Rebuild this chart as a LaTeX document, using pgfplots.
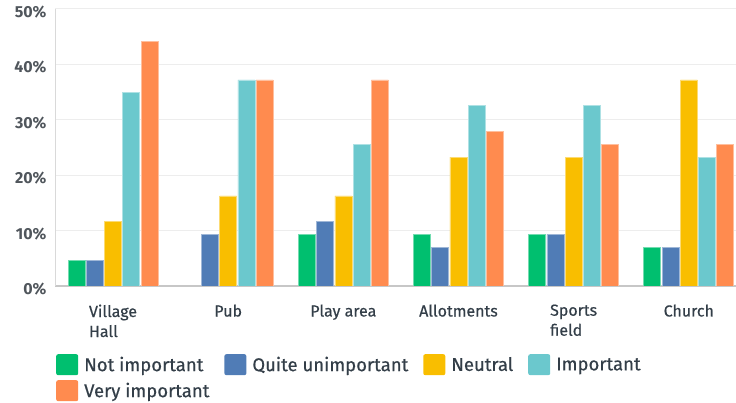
\documentclass[border=0pt]{standalone}
\usepackage{pgfplots}
\pgfplotsset{compat=1.18}
\usepackage{fontspec}
\setmainfont{Fira Sans}
\newfontfamily\medfont{Fira Sans}[FakeBold=0.5]
\definecolor{cNot}{HTML}{00BF6F}
\definecolor{cQuite}{HTML}{507CB6}
\definecolor{cNeutral}{HTML}{F9BE00}
\definecolor{cImp}{HTML}{6BC8CD}
\definecolor{cVery}{HTML}{FF8B4F}
\definecolor{txt}{HTML}{333E48}
\definecolor{ytxt}{HTML}{50565C}
\begin{document}
\begin{tikzpicture}[x=1pt,y=1pt]
\path[use as bounding box] (0,0) rectangle (736,403);
\begin{axis}[
    at={(55pt,117pt)}, anchor=south west,
    scale only axis, width=681pt, height=277pt,
    ymin=0, ymax=50, xmin=-0.504, xmax=5.41,
    ybar=1.25pt, bar width=17pt,
    axis x line*=bottom, axis y line*=left,
    x axis line style={draw=black!22, line width=1.5pt, -},
    y axis line style={draw=black!15, line width=0.8pt, -},
    major tick length=0pt,
    xtick={0,1,2,3,4,5},
    xticklabels={{Village\\Hall},Pub,Play area,Allotments,{Sports\\field},Church},
    xticklabel style={font=\medfont\fontsize{16}{20}\selectfont, text=txt, align=left, yshift=-15pt},
    ytick={0,10,20,30,40,50},
    yticklabel={\pgfmathprintnumber{\tick}\%},
    yticklabel style={font=\fontsize{16}{18}\bfseries, text=ytxt, xshift=-5pt, yshift=-3pt},
    /pgf/number format/assume math mode=true,
    ymajorgrids, grid style={draw=black!7, line width=1pt},
    legend columns=4, legend cell align=left,
    legend style={at={(axis description cs:0,0)}, anchor=north west, xshift=-2pt, yshift=-66pt,
        draw=none, fill=none, font=\medfont\fontsize{18.5}{22}\selectfont, text=txt, row sep=5pt,
        /tikz/every odd column/.append style={column sep=4pt},
        /tikz/every even column/.append style={column sep=13pt}},
    legend image code/.code={\path[#1, draw=none, rounded corners=2pt] (0pt,-10.5pt) rectangle (22pt,10.5pt);},
]
\addplot[fill=cNot, draw=cNot!55!white, line width=0.6pt] coordinates {(0,4.65) (2,9.30) (3,9.30) (4,9.30) (5,6.98)};
\addlegendentry{Not important}
\addplot[fill=cQuite, draw=cQuite!55!white, line width=0.6pt] coordinates {(0,4.65) (1,9.30) (2,11.63) (3,6.98) (4,9.30) (5,6.98)};
\addlegendentry{Quite unimportant}
\addplot[fill=cNeutral, draw=cNeutral!55!white, line width=0.6pt] coordinates {(0,11.63) (1,16.28) (2,16.28) (3,23.26) (4,23.26) (5,37.21)};
\addlegendentry{Neutral}
\addplot[fill=cImp, draw=cImp!55!white, line width=0.6pt] coordinates {(0,34.88) (1,37.21) (2,25.58) (3,32.56) (4,32.56) (5,23.26)};
\addlegendentry{Important}
\addplot[fill=cVery, draw=cVery!55!white, line width=0.6pt] coordinates {(0,44.19) (1,37.21) (2,37.21) (3,27.91) (4,25.58) (5,25.58)};
\addlegendentry{Very important}
\end{axis}
\end{tikzpicture}
\end{document}
